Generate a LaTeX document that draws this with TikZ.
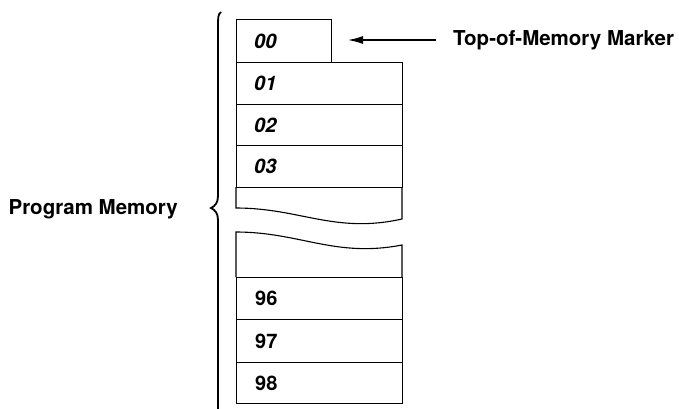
\documentclass[tikz,border=0pt]{standalone}
\usepackage{fontspec}
\setmainfont{TeX Gyre Heros}
\usetikzlibrary{arrows.meta}
\begin{document}
\begin{tikzpicture}[x=1pt,y=-1pt,
  cell/.style={draw,line width=1.1pt,minimum width=166pt,minimum height=42pt,inner sep=0pt,anchor=north west},
  num/.style={font=\fontsize{20}{20}\selectfont\bfseries\itshape,anchor=west,inner sep=0pt},
  numup/.style={font=\fontsize{20}{20}\selectfont\bfseries,anchor=west,inner sep=0pt},
  lbl/.style={font=\fontsize{20.5}{20.5}\selectfont\bfseries,inner sep=0pt},
  edge/.style={line width=1.1pt}]
\useasboundingbox (0,0) rectangle (679,408);
% top cell
\node[cell,minimum width=95pt,minimum height=43pt] (c00) at (236,19) {};
\node[cell] (c01) at (236,62) {};
\node[cell,minimum height=41pt] (c02) at (236,104) {};
\node[cell] (c03) at (236,145) {};
\node[cell] (c96) at (236,277) {};
\node[cell,minimum height=43pt] (c97) at (236,319) {};
\node[cell,minimum height=41pt] (c98) at (236,362) {};
\node[num] at ([xshift=18pt]c00.west) {00};
\node[num] at ([xshift=18pt]c01.west) {01};
\node[num] at ([xshift=18pt]c02.west) {02};
\node[num] at ([xshift=18pt]c03.west) {03};
\node[numup] at ([xshift=19pt]c96.west) {96};
\node[numup] at ([xshift=19pt]c97.west) {97};
\node[numup] at ([xshift=19pt]c98.west) {98};
% broken section
\draw[edge] (236,187) -- (236,208) .. controls (300,208) and (335,234) .. (402,219) -- (402,187);
\draw[edge] (236,277) -- (236,232) .. controls (300,232) and (335,258) .. (402,245) -- (402,277);
% marker
\node[lbl,anchor=west] (marker) at (453,40) {Top-of-Memory Marker};
\draw[line width=1.1pt,-{Latex[length=15pt,width=8pt]},shorten <=17pt,shorten >=16pt] (marker.west) -- (c00.east |- marker.west);
% brace
\draw[line width=1.8pt] (221,12) .. controls (218,14) and (218,18) .. (218,26) -- (218,196) .. controls (218,203) and (215,206) .. (211,208) .. controls (215,210) and (218,213) .. (218,220) -- (218,412);
\node[lbl,anchor=east] (pm) at (178,209) {Program Memory};
\end{tikzpicture}
\end{document}
